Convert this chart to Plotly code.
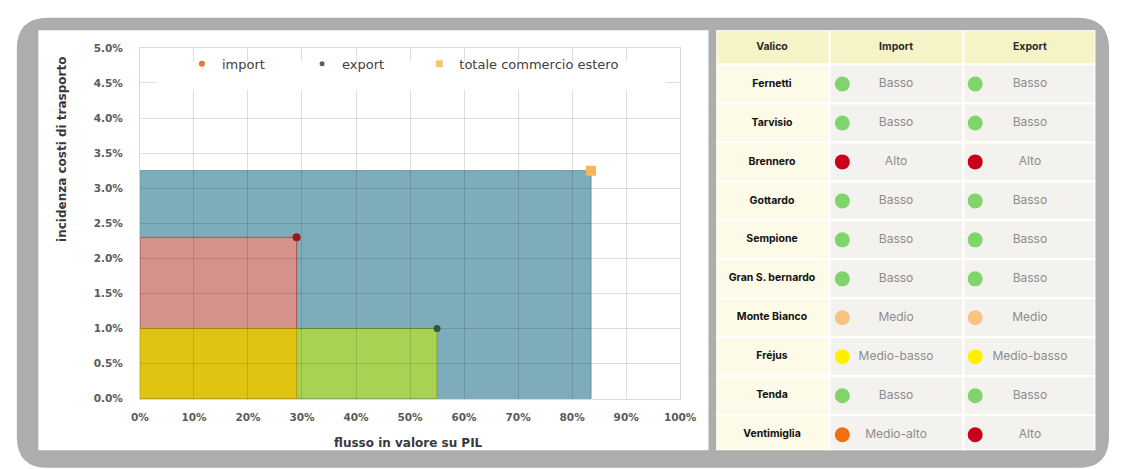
import plotly.graph_objects as go

W, H = 1128, 469

# ---------------- data ----------------
series_names = ["import", "export", "totale commercio estero"]
flow_pil_pct = [29.0, 55.0, 83.5]          # flusso in valore su PIL (%)
transport_cost_pct = [2.3, 1.0, 3.25]      # incidenza costi di trasporto (%)

x_tick_vals = [0, 10, 20, 30, 40, 50, 60, 70, 80, 90, 100]
x_tick_text = ["0%", "10%", "20%", "30%", "40%", "50%", "60%", "70%", "80%", "90%", "100%"]
y_tick_vals = [0.0, 0.5, 1.0, 1.5, 2.0, 2.5, 3.0, 3.5, 4.0, 4.5, 5.0]
y_tick_text = ["0.0%", "0.5%", "1.0%", "1.5%", "2.0%", "2.5%", "3.0%", "3.5%", "4.0%", "4.5%", "5.0%"]

table_header = ["Valico", "Import", "Export"]
valichi = ["Fernetti", "Tarvisio", "Brennero", "Gottardo", "Sempione",
           "Gran S. bernardo", "Monte Bianco", "Fréjus", "Tenda", "Ventimiglia"]
import_level = ["Basso", "Basso", "Alto", "Basso", "Basso",
                "Basso", "Medio", "Medio-basso", "Basso", "Medio-alto"]
export_level = ["Basso", "Basso", "Alto", "Basso", "Basso",
                "Basso", "Medio", "Medio-basso", "Basso", "Alto"]

# ---------------- styles ----------------
level_colors = {"Basso": "#80d46c", "Medio-basso": "#fff000", "Medio": "#f8c482",
                "Medio-alto": "#f26e12", "Alto": "#c8001c"}
rect_fill = ["#d4928a", "#a9d152", "#7dadbb"]
rect_line = ["#a8544c", "#7f9e33", "#5e95a5"]
overlap_fill = "#e0c412"
overlap_line = "#b89e10"
point_colors = ["#9c1a16", "#2f5a32", "#f5b75a"]
legend_colors = ["#e8782a", "#4d6a4f", "#f8c47c"]
point_symbols = ["circle", "circle", "square"]
point_sizes = [8, 7, 10]
legend_sizes = [6, 5, 7]
legend_marker_x = [206, 329, 449]
legend_names = ["legend", "legend2", "legend3"]

FRAME = "#adadad"


def px(x):
    return x / W


def py(y):
    return 1 - y / H


fig = go.Figure()

# chart points
for i, name in enumerate(series_names):
    fig.add_trace(go.Scatter(
        x=[flow_pil_pct[i]], y=[transport_cost_pct[i]], mode="markers",
        marker=dict(color=point_colors[i], size=point_sizes[i], symbol=point_symbols[i]),
        showlegend=False, hoverinfo="skip", xaxis="x", yaxis="y"))
# legend entries (one legend per entry, to place them like the original)
for i, name in enumerate(series_names):
    fig.add_trace(go.Scatter(
        x=[None], y=[None], mode="markers", name=name, legend=legend_names[i],
        marker=dict(color=legend_colors[i], size=legend_sizes[i], symbol=point_symbols[i]),
        showlegend=True, xaxis="x", yaxis="y"))

shapes = []


def rounded_rect(x0, y0, x1, y1, r):
    rx, ry = r / W, r / H
    X0, X1 = px(x0), px(x1)
    Y0, Y1 = py(y0), py(y1)
    return (f"M {X0},{Y0 - ry} Q {X0},{Y0} {X0 + rx},{Y0} "
            f"L {X1 - rx},{Y0} Q {X1},{Y0} {X1},{Y0 - ry} "
            f"L {X1},{Y1 + ry} Q {X1},{Y1} {X1 - rx},{Y1} "
            f"L {X0 + rx},{Y1} Q {X0},{Y1} {X0},{Y1 + ry} Z")


shapes.append(dict(type="path", xref="paper", yref="paper", layer="below",
                   path=rounded_rect(8, 12, 1126, 474, 32),
                   fillcolor=FRAME, line=dict(width=0)))
shapes.append(dict(type="rect", xref="paper", yref="paper", layer="below",
                   x0=px(30), x1=px(716), y0=py(456), y1=py(25),
                   fillcolor="white", line=dict(width=0)))

# chart rectangles (from data): total first, then import, export, then their overlap
for i in [2, 0, 1]:
    shapes.append(dict(type="rect", xref="x", yref="y", layer="below",
                       x0=0, x1=flow_pil_pct[i], y0=0, y1=transport_cost_pct[i],
                       fillcolor=rect_fill[i], line=dict(color=rect_line[i], width=1)))
shapes.append(dict(type="rect", xref="x", yref="y", layer="below",
                   x0=0, x1=min(flow_pil_pct[0], flow_pil_pct[1]),
                   y0=0, y1=min(transport_cost_pct[0], transport_cost_pct[1]),
                   fillcolor=overlap_fill, line=dict(color=overlap_line, width=1)))

# white box behind legend
shapes.append(dict(type="rect", xref="paper", yref="paper", layer="above",
                   x0=px(152), x1=px(672), y0=py(86), y1=py(57),
                   fillcolor="white", line=dict(width=0)))

# ---------------- table ----------------
col_edges = [0, 116, 253, 388]
header_band = (-1.375, -0.5)
y_bottom = 9.4
header_fill = "#f6f3c6"
first_col_fill = "#fdfbe8"
cell_fill = "#f4f2ef"

for c in range(3):
    shapes.append(dict(type="rect", xref="x2", yref="y2", layer="below",
                       x0=col_edges[c], x1=col_edges[c + 1],
                       y0=header_band[0], y1=header_band[1],
                       fillcolor=header_fill, line=dict(color="white", width=2)))
    for r in range(len(valichi)):
        shapes.append(dict(type="rect", xref="x2", yref="y2", layer="below",
                           x0=col_edges[c], x1=col_edges[c + 1],
                           y0=r - 0.5, y1=min(r + 0.5, y_bottom),
                           fillcolor=first_col_fill if c == 0 else cell_fill,
                           line=dict(color="white", width=2)))

rows = list(range(len(valichi)))
name_x, imp_dot_x, imp_txt_x, exp_dot_x, exp_txt_x = 57, 129, 184, 265, 321

fig.add_trace(go.Scatter(
    x=[name_x, imp_txt_x, exp_txt_x], y=[-0.94] * 3, mode="text", text=table_header,
    textfont=dict(family="Inter", size=10.5, color="#2a2a2a", weight="bold"),
    showlegend=False, hoverinfo="skip", xaxis="x2", yaxis="y2", cliponaxis=False))
fig.add_trace(go.Scatter(
    x=[name_x] * len(rows), y=rows, mode="text", text=valichi,
    textfont=dict(family="Inter", size=10.5, color="#111111", weight="bold"),
    showlegend=False, hoverinfo="skip", xaxis="x2", yaxis="y2", cliponaxis=False))
for dot_x, txt_x, levels in [(imp_dot_x, imp_txt_x, import_level),
                             (exp_dot_x, exp_txt_x, export_level)]:
    fig.add_trace(go.Scatter(
        x=[dot_x] * len(rows), y=rows, mode="markers",
        marker=dict(size=15, color=[level_colors[l] for l in levels], line=dict(width=0)),
        showlegend=False, hoverinfo="skip", xaxis="x2", yaxis="y2", cliponaxis=False))
    fig.add_trace(go.Scatter(
        x=[txt_x] * len(rows), y=rows, mode="text", text=levels,
        textfont=dict(family="Inter", size=12, color="#8c8c8c"),
        showlegend=False, hoverinfo="skip", xaxis="x2", yaxis="y2", cliponaxis=False))

# ---------------- layout ----------------
tick_font = dict(family="DejaVu Sans", size=10.5, color="#5a5a5a", weight="bold")
grid_col = "rgba(0,0,0,0.13)"
legend_font = dict(family="DejaVu Sans", size=13, color="#404040")

legend_layout = {}
for i, ln in enumerate(legend_names):
    legend_layout[ln] = dict(orientation="h", x=px(legend_marker_x[i] - 29), xanchor="left",
                             y=py(44), yanchor="top", bgcolor="rgba(0,0,0,0)",
                             font=legend_font, itemclick=False)

fig.update_layout(
    width=W, height=H,
    margin=dict(l=0, r=0, t=0, b=0),
    paper_bgcolor="white",
    plot_bgcolor="rgba(0,0,0,0)",
    shapes=shapes,
    xaxis=dict(domain=[px(134), px(687)], range=[0, 100], tickvals=x_tick_vals,
               ticktext=x_tick_text, tickfont=tick_font, showgrid=True, gridcolor=grid_col,
               gridwidth=1, zeroline=False, showline=True, mirror=True,
               linecolor="#d9d9d9", linewidth=1, ticks="", ticklabelstandoff=9,
               anchor="y", fixedrange=True),
    yaxis=dict(domain=[py(403), py(43)], range=[0, 5], tickvals=y_tick_vals,
               ticktext=y_tick_text, tickfont=tick_font, showgrid=True,
               gridcolor=grid_col, gridwidth=1, zeroline=False, showline=True,
               mirror=True, linecolor="#d9d9d9", linewidth=1, ticks="",
               ticklabelstandoff=14, anchor="x", fixedrange=True),
    xaxis2=dict(domain=[px(724), px(1112)], range=[0, 388], visible=False,
                anchor="y2", fixedrange=True),
    yaxis2=dict(domain=[py(456), py(25)], range=[y_bottom, header_band[0]],
                visible=False, anchor="x2", fixedrange=True),
    annotations=[
        dict(text="incidenza costi di trasporto", xref="paper", yref="paper",
             x=px(55), y=py(147), textangle=-90, showarrow=False,
             font=dict(family="DejaVu Sans", size=12, color="#3a3a3a", weight="bold"),
             xanchor="center", yanchor="middle"),
        dict(text="flusso in valore su PIL", xref="paper", yref="paper",
             x=px(409), y=py(448), showarrow=False,
             font=dict(family="DejaVu Sans", size=12, color="#3a3a3a", weight="bold"),
             xanchor="center", yanchor="middle"),
    ],
    **legend_layout,
)

fig.write_html(
    "out.html",
    config={"displayModeBar": False},
    post_script="document.body.style.margin='0';"
                "document.documentElement.style.overflow='hidden';"
                "document.body.style.overflow='hidden';",
)
